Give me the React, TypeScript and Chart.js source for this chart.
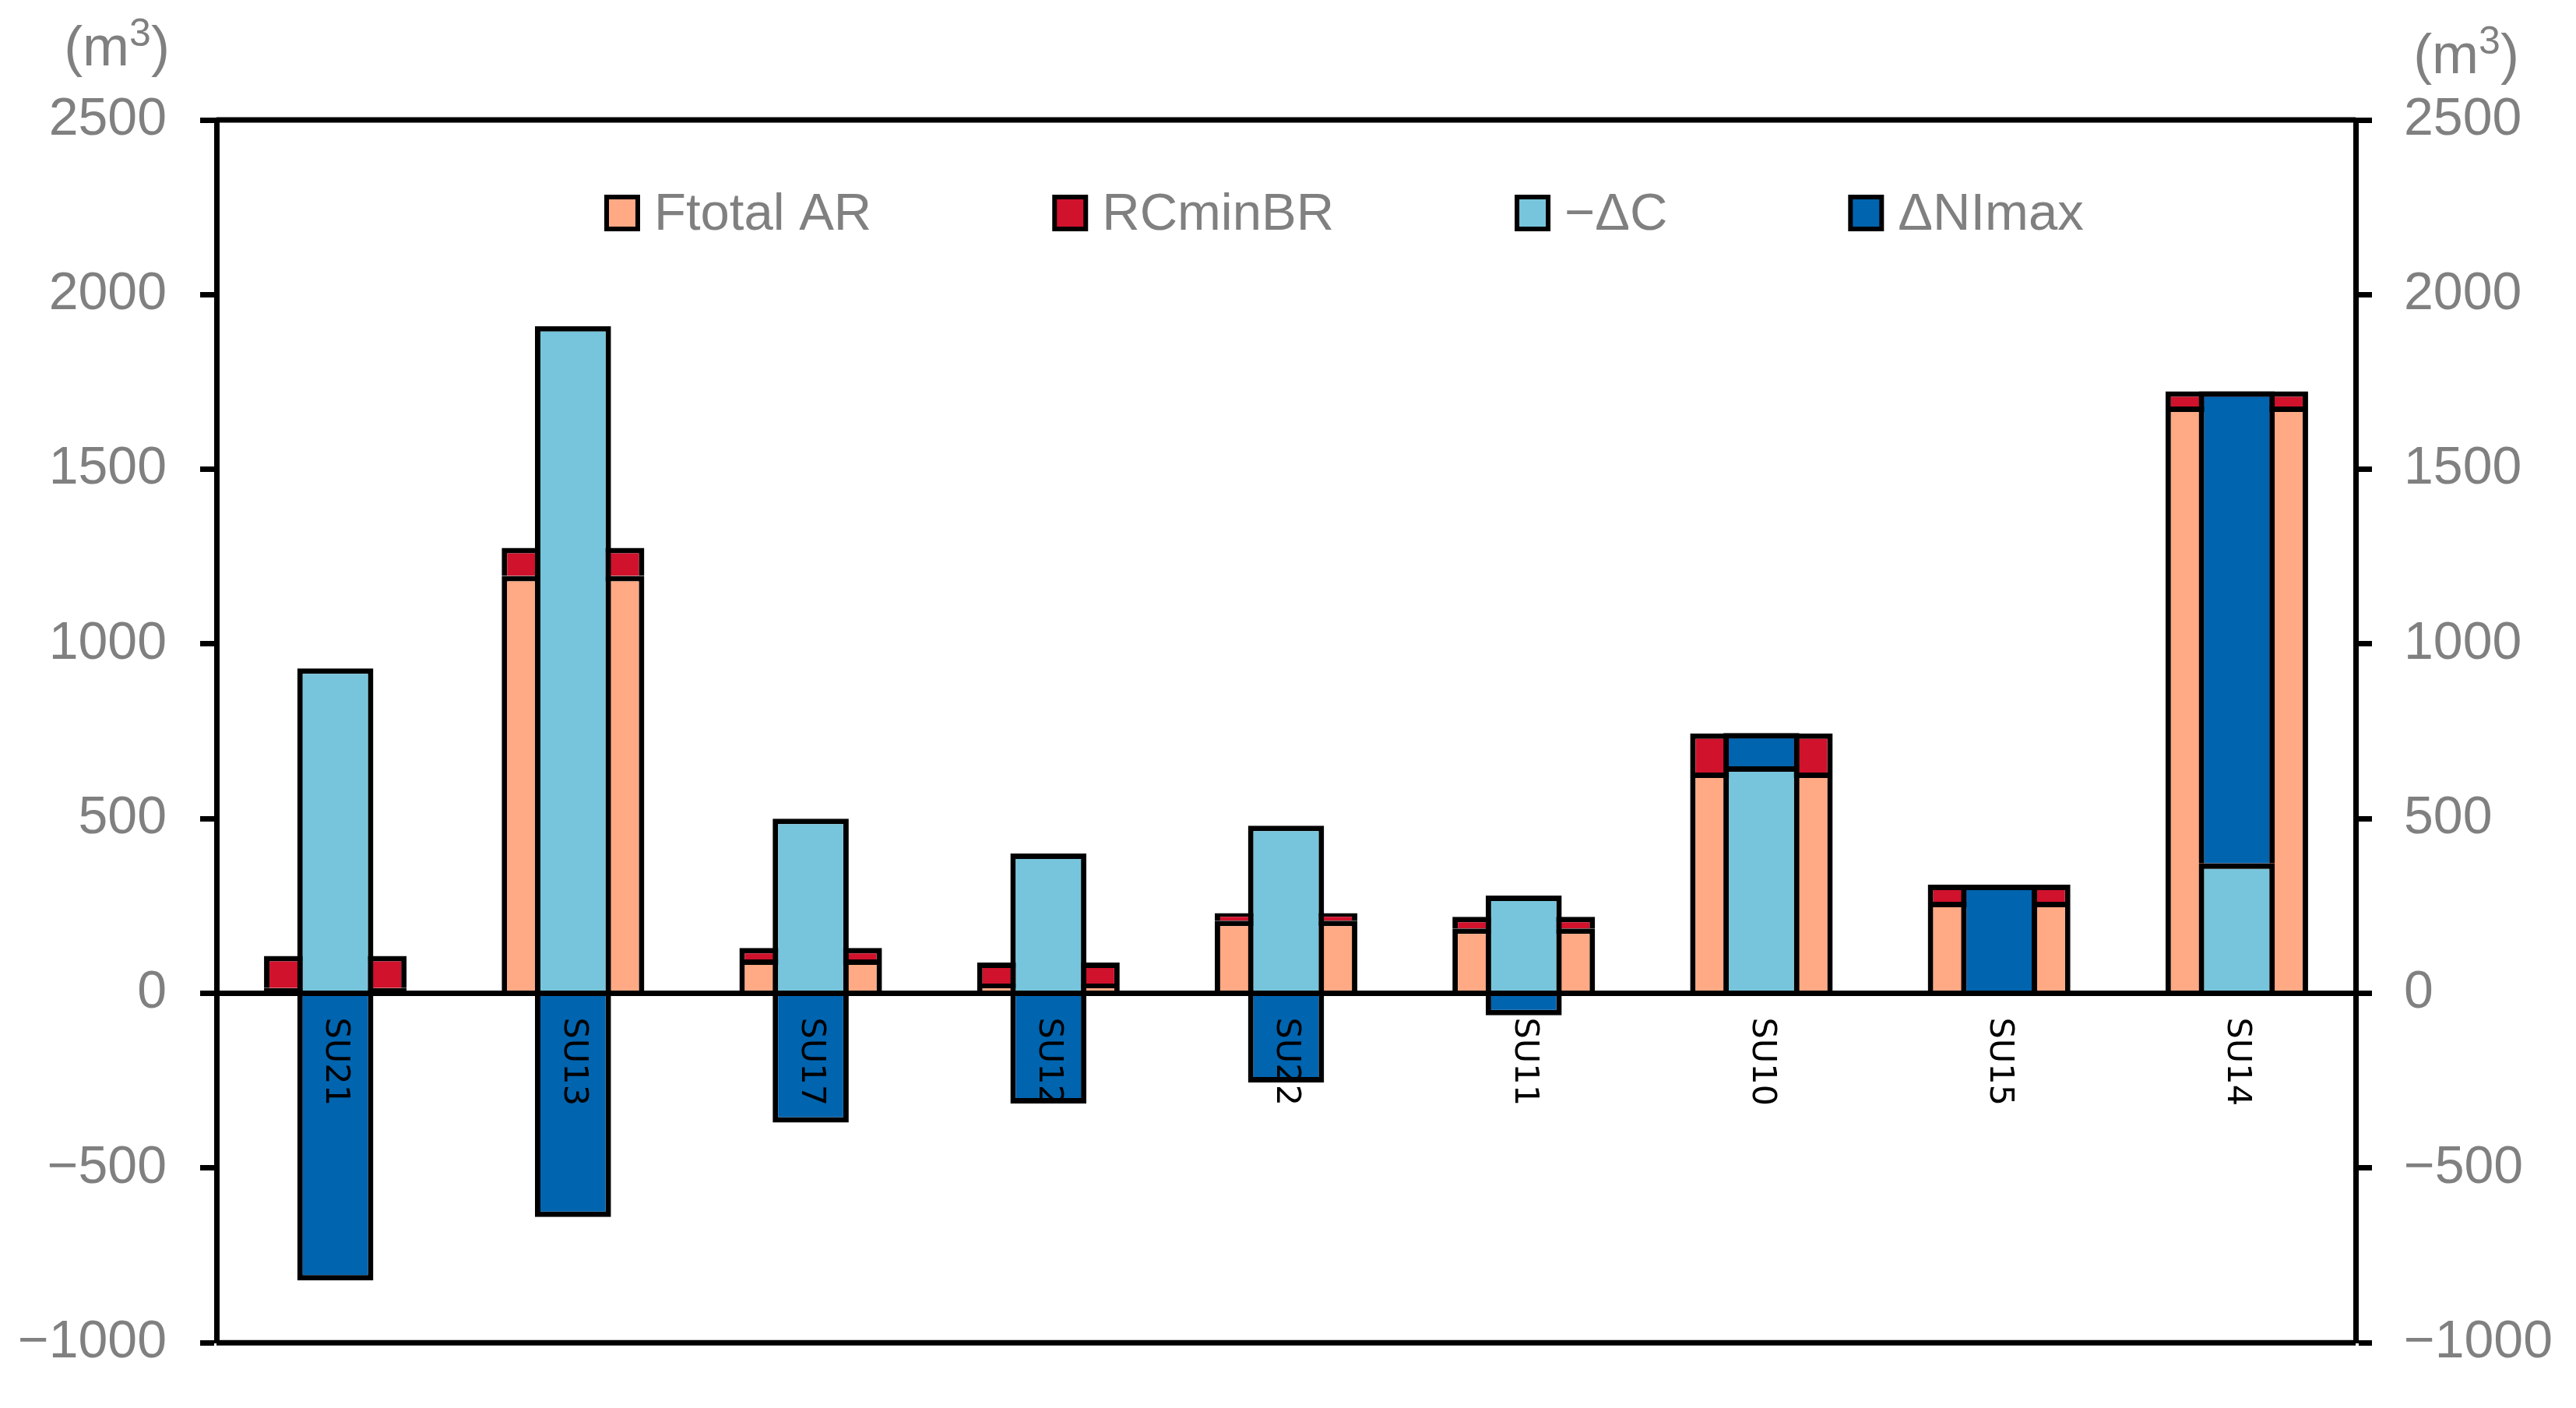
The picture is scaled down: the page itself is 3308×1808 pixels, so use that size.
import React, { useEffect, useRef } from 'react';
import { Chart, registerables } from 'chart.js';

Chart.register(...registerables);

// ---------- data ----------
const categories = ['SU21', 'SU13', 'SU17', 'SU12', 'SU22', 'SU11', 'SU10', 'SU15', 'SU14'];
const ftotalAR = [15, 1195, 97, 28, 208, 186, 632, 262, 1680];
const rcMinBR = [92, 80, 33, 60, 22, 33, 112, 49, 43];
const negDeltaC = [930, 1910, 500, 400, 480, 280, 650, 0, 372];
const deltaNImax = [-822, -640, -370, -315, -255, -63, 95, 311, 1351];

const seriesLabels = ['Ftotal AR', 'RCminBR', '\u2212\u0394C', '\u0394NImax'];
const seriesColors = ['#FFA985', '#D0122C', '#77C5DC', '#0064AF'];

const yMin = -1000;
const yMax = 2500;
const yStep = 500;
const unitLabel = ['(m', '3', ')'];

const FONT = '"Liberation Sans", Arial, sans-serif';
const GRAY = '#808080';
const LW = 7;

const fmtTick = (v: number | string) => {
  const n = Number(v);
  return n < 0 ? '\u2212' + Math.abs(n) : String(n);
};

const overlayPlugin = {
  id: 'overlay',
  afterDatasetsDraw(chart: any) {
    const { ctx, chartArea: a, scales } = chart;
    const y0 = scales.y.getPixelForValue(0);
    ctx.save();
    ctx.strokeStyle = '#000';
    ctx.lineWidth = LW;
    ctx.lineCap = 'butt';
    ctx.beginPath();
    ctx.moveTo(a.left, a.top);
    ctx.lineTo(a.right, a.top);
    ctx.moveTo(a.left, a.bottom);
    ctx.lineTo(a.right, a.bottom);
    ctx.moveTo(a.left, y0);
    ctx.lineTo(a.right, y0);
    ctx.stroke();

    // category labels, rotated, just below the zero line
    ctx.fillStyle = '#000';
    ctx.font = '43px "DejaVu Sans", sans-serif';
    ctx.textAlign = 'left';
    ctx.textBaseline = 'middle';
    const labels = chart.data.labels as string[];
    labels.forEach((c, i) => {
      const x = scales.x.getPixelForValue(i);
      ctx.save();
      ctx.translate(x, y0 + 31);
      ctx.rotate(Math.PI / 2);
      ctx.fillText(c, 0, 0);
      ctx.restore();
    });
    ctx.restore();
  },
  afterDraw(chart: any) {
    const { ctx } = chart;
    ctx.save();
    // legend inside plot
    ctx.font = `67px ${FONT}`;
    ctx.textAlign = 'left';
    ctx.textBaseline = 'alphabetic';
    let x = 776;
    const top = 250;
    const size = 46;
    chart.data.datasets.forEach((ds: any) => {
      ctx.fillStyle = '#000';
      ctx.fillRect(x, top, size, size + 1);
      ctx.fillStyle = ds.backgroundColor;
      ctx.fillRect(x + 6, top + 6, size - 12, size - 11);
      ctx.fillStyle = GRAY;
      ctx.fillText(ds.label, x + size + 18, 295);
      x += size + 18 + ctx.measureText(ds.label).width + 232;
    });

    // unit labels
    const drawUnit = (cx: number, base: number) => {
      ctx.font = `72px ${FONT}`;
      const w1 = ctx.measureText(unitLabel[0]).width;
      const w3 = ctx.measureText(unitLabel[2]).width;
      ctx.font = `50px ${FONT}`;
      const w2 = ctx.measureText(unitLabel[1]).width;
      let sx = cx - (w1 + w2 + w3) / 2;
      ctx.fillStyle = GRAY;
      ctx.font = `72px ${FONT}`;
      ctx.fillText(unitLabel[0], sx, base);
      sx += w1;
      ctx.font = `50px ${FONT}`;
      ctx.fillText(unitLabel[1], sx, base - 25);
      sx += w2;
      ctx.font = `72px ${FONT}`;
      ctx.fillText(unitLabel[2], sx, base);
    };
    drawUnit(150, 84);
    drawUnit(3167, 94);
    ctx.restore();
  },
};

const axisCommon = {
  type: 'linear' as const,
  min: yMin,
  max: yMax,
  grid: {
    drawOnChartArea: false,
    drawTicks: true,
    tickLength: 21,
    tickWidth: LW,
    tickColor: '#000',
  },
  border: { display: true, width: LW, color: '#000' },
};

export default function App() {
  const ref = useRef<HTMLCanvasElement | null>(null);

  useEffect(() => {
    if (!ref.current) return;
    const wideBar = { stack: 'wide', order: 2, barPercentage: 0.6, categoryPercentage: 1, grouped: false };
    const narrowBar = { stack: 'narrow', order: 1, barPercentage: 0.32, categoryPercentage: 1, grouped: false };
    const values = [ftotalAR, rcMinBR, negDeltaC, deltaNImax];
    const chart = new Chart(ref.current, {
      type: 'bar',
      data: {
        labels: categories,
        datasets: values.map((d, i) => ({
          label: seriesLabels[i],
          data: d,
          backgroundColor: seriesColors[i],
          borderColor: '#000',
          borderWidth: LW,
          ...(i < 2 ? wideBar : narrowBar),
        })),
      },
      options: {
        animation: false,
        responsive: false,
        devicePixelRatio: 1,
        layout: { padding: { left: 0, right: 0, top: 154, bottom: 70 } },
        plugins: { legend: { display: false }, tooltip: { enabled: false } },
        scales: {
          x: { type: 'category', display: false, stacked: true, offset: true },
          y: {
            ...axisCommon,
            position: 'left',
            stacked: true,
            ticks: {
              stepSize: yStep,
              color: GRAY,
              padding: 43,
              font: { family: FONT, size: 68 },
              callback: (v: any) => fmtTick(v),
            },
            afterFit: (s: any) => {
              s.width = 278;
            },
          },
          y2: {
            ...axisCommon,
            position: 'right',
            ticks: {
              stepSize: yStep,
              color: GRAY,
              padding: 41,
              font: { family: FONT, size: 68 },
              callback: (v: any) => fmtTick(v),
            },
            afterFit: (s: any) => {
              s.width = 3308 - 3025;
            },
          },
        },
      } as any,
      plugins: [overlayPlugin],
    });
    return () => chart.destroy();
  }, []);

  return (
    <div style={{ position: 'fixed', left: 0, top: 0, width: 3308, height: 1808, background: '#fff' }}>
      <canvas ref={ref} width={3308} height={1808} style={{ display: 'block', width: 3308, height: 1808 }} />
    </div>
  );
}
